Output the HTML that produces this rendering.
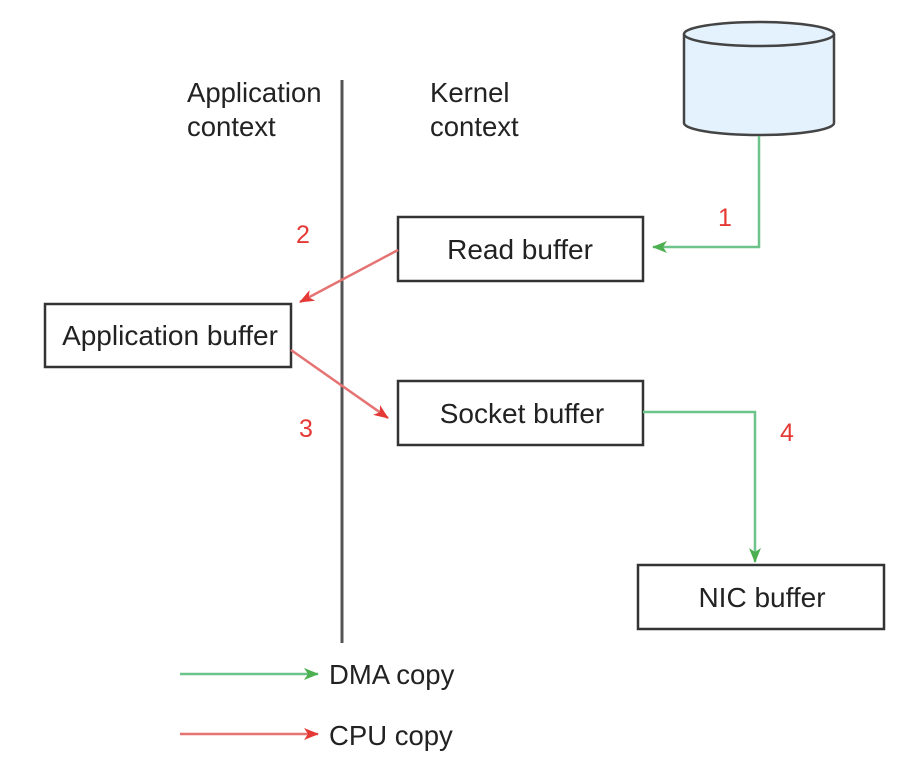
<!DOCTYPE html>
<html><head><meta charset="utf-8"><style>body{margin:0;background:#fff}svg text{font-family:"Liberation Sans",Arial,sans-serif}</style></head><body>
<svg width="910" height="770" xmlns="http://www.w3.org/2000/svg" style="font-family:'Liberation Sans',Arial,sans-serif">
<defs>
<marker id="g" markerWidth="16" markerHeight="14" refX="14" refY="7" orient="auto" markerUnits="userSpaceOnUse"><path d="M0,1 L15,7 L0,13 L4,7 z" fill="#4caf50"/></marker>
<marker id="r" markerWidth="16" markerHeight="14" refX="14" refY="7" orient="auto" markerUnits="userSpaceOnUse"><path d="M0,1 L15,7 L0,13 L4,7 z" fill="#e53935"/></marker>
</defs>
<rect width="910" height="770" fill="#fff"/>
<line x1="342" y1="80" x2="342" y2="643" stroke="#555" stroke-width="3"/>
<g font-size="27.5" fill="#222">
<text x="187" y="102">Application</text>
<text x="187" y="136">context</text>
<text x="430" y="102">Kernel</text>
<text x="430" y="136">context</text>
</g>
<path d="M684,34 L684,123 A75,12 0 0 0 834,123 L834,34" fill="#e3f2fc" stroke="#444" stroke-width="2.5"/>
<ellipse cx="759" cy="34" rx="75" ry="12" fill="#e3f2fc" stroke="#444" stroke-width="2.5"/>
<g fill="#fff" stroke="#333" stroke-width="2.5">
<rect x="398" y="217" width="245" height="64"/>
<rect x="45" y="304" width="246" height="63"/>
<rect x="398" y="381" width="245" height="64"/>
<rect x="638" y="565" width="246" height="64"/>
</g>
<g font-size="28" fill="#222" text-anchor="middle">
<text x="520" y="259">Read buffer</text>
<text x="170" y="345">Application buffer</text>
<text x="522" y="423">Socket buffer</text>
<text x="762" y="607">NIC buffer</text>
</g>
<g fill="none" stroke-width="2.5">
<path d="M759,136 L759,247 L653,247" stroke="#6cc48a" marker-end="url(#g)"/>
<path d="M643,412 L755,412 L755,562" stroke="#6cc48a" marker-end="url(#g)"/>
<path d="M398,250 L300,302" stroke="#e57373" marker-end="url(#r)"/>
<path d="M291,350 L388,418" stroke="#e57373" marker-end="url(#r)"/>
<path d="M180,674 L318,674" stroke="#6cc48a" marker-end="url(#g)"/>
<path d="M180,734 L318,734" stroke="#e57373" marker-end="url(#r)"/>
</g>
<g font-size="25" fill="#e53935">
<text x="718" y="226">1</text>
<text x="296" y="243">2</text>
<text x="299" y="437">3</text>
<text x="780" y="441">4</text>
</g>
<text x="329" y="684" font-size="27.5" fill="#222">DMA copy</text>
<text x="329" y="745" font-size="27.5" fill="#222">CPU copy</text>
</svg>
</body></html>
